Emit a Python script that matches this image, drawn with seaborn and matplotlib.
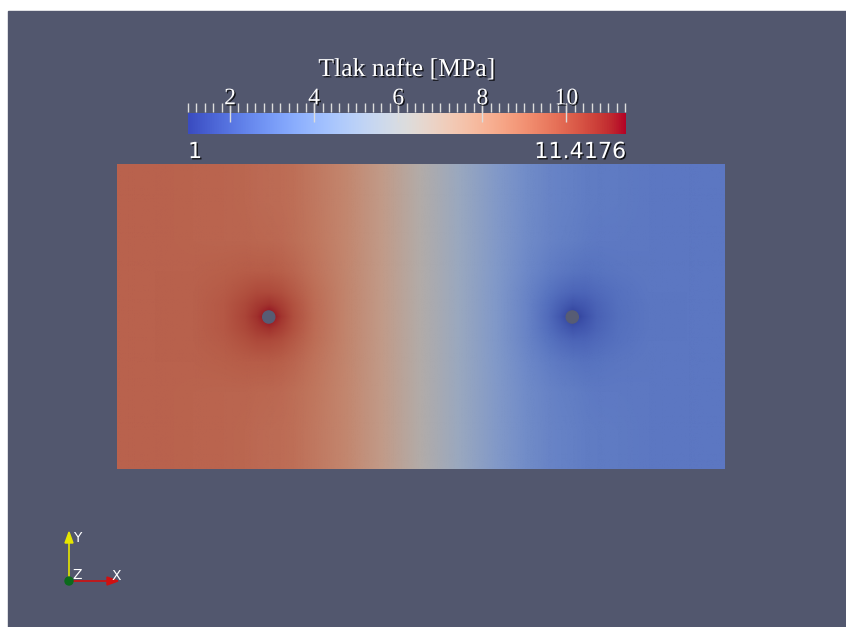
import numpy as np
import matplotlib
matplotlib.use("Agg")
import matplotlib.pyplot as plt
import matplotlib.patheffects as pe
from matplotlib.colors import ListedColormap, Normalize
from matplotlib.image import NonUniformImage
from matplotlib.patches import Circle, Polygon, Rectangle
import seaborn as sns

sns.set_theme(style="white")
plt.rcParams["font.family"] = ["Liberation Serif", "DejaVu Sans"]

x_nodes = [0, 12.5, 25, 35, 42, 46, 50, 54, 58, 65, 75, 87.5, 100,
           112.5, 125, 135, 142, 146, 150, 154, 158, 165, 175, 187.5, 200]
y_nodes = [0, 12.5, 25, 35, 42, 46, 50, 54, 58, 65, 75, 87.5, 100]
# rows by distance from the well line (y = 50 m)
p_far = [9.5, 9.5, 9.45, 9.4, 9.35, 9.3, 9.25, 9.2, 9.1, 8.85, 8.35, 7.5, 6.4,
         5.3, 4.3, 3.7, 3.4, 3.3, 3.2, 3.1, 3.05, 3.0, 2.95, 2.9, 2.9]
p_dy25 = [9.5, 9.5, 9.45, 9.42, 9.41, 9.37, 9.33, 9.27, 9.16, 8.87, 8.35, 7.5, 6.4,
          5.3, 4.3, 3.68, 3.34, 3.23, 3.12, 3.03, 2.99, 2.98, 2.95, 2.9, 2.9]
p_dy15 = [9.5, 9.5, 9.47, 9.56, 9.65, 9.66, 9.63, 9.56, 9.4, 9.01, 8.37, 7.5, 6.4,
          5.3, 4.28, 3.54, 3.1, 2.94, 2.82, 2.74, 2.75, 2.84, 2.93, 2.9, 2.9]
p_dy8 = [9.5, 9.5, 9.51, 9.7, 9.97, 10.12, 10.15, 10.02, 9.72, 9.15, 8.41, 7.5, 6.4,
         5.3, 4.24, 3.4, 2.78, 2.48, 2.3, 2.28, 2.43, 2.7, 2.89, 2.9, 2.9]
p_dy4 = [9.5, 9.5, 9.53, 9.76, 10.17, 10.5, 10.7, 10.4, 9.92, 9.21, 8.43, 7.5, 6.4,
         5.3, 4.22, 3.34, 2.58, 2.1, 1.75, 1.9, 2.23, 2.64, 2.87, 2.9, 2.9]
p_dy0 = [9.5, 9.5, 9.53, 9.78, 10.25, 10.75, 11.42, 10.65, 10.0, 9.23, 8.43, 7.5, 6.4,
         5.3, 4.22, 3.32, 2.5, 1.85, 1.0, 1.65, 2.15, 2.62, 2.87, 2.9, 2.9]

# wells (holes in the mesh)
well_x = [50, 150]
well_y = [50, 50]
well_r = 2.0

p_min, p_max = 1.0, 11.4176
bar_title = "Tlak nafte [MPa]"
bar_ticks = [2, 4, 6, 8, 10]

field = np.array([p_far, p_far, p_dy25, p_dy15, p_dy8, p_dy4, p_dy0,
                  p_dy4, p_dy8, p_dy15, p_dy25, p_far, p_far])

W, H = 846, 627
bg = "#52576e"
cmap = sns.color_palette("coolwarm", as_cmap=True)
# the slab is lit, so it renders darker than the bar
shade = 0.79
lut = cmap(np.linspace(0, 1, 256))
lut[:, :3] *= shade
cmap_lit = ListedColormap(lut)
norm = Normalize(p_min, p_max)


def px(x0, y0, w, h):
    return [x0 / W, 1 - (y0 + h) / H, w / W, h / H]


fig = plt.figure(figsize=(W / 100, H / 100), dpi=100)
fig.patch.set_facecolor("white")
fig.add_artist(Rectangle((8 / W, 0), 1 - 8 / W, 1 - 11 / H,
                         transform=fig.transFigure, color=bg, zorder=0))

# field
ax = fig.add_axes(px(117, 165, 607, 304))
im = NonUniformImage(ax, interpolation="bilinear", cmap=cmap_lit, norm=norm,
                     extent=(x_nodes[0], x_nodes[-1], y_nodes[0], y_nodes[-1]))
im.set_data(x_nodes, y_nodes, field)
ax.add_image(im)
for wx, wy in zip(well_x, well_y):
    ax.add_patch(Circle((wx, wy), well_r, color="#575c74", zorder=3))
ax.set_xlim(x_nodes[0], x_nodes[-1])
ax.set_ylim(y_nodes[0], y_nodes[-1])
ax.set_axis_off()

# scalar bar
shadow = [pe.withSimplePatchShadow(offset=(1, -1), shadow_rgbFace="black", alpha=0.8)]
cax = fig.add_axes(px(188, 113, 438, 21))
cax.imshow(np.linspace(p_min, p_max, 512)[None, :], cmap=cmap, norm=norm,
           aspect="auto", extent=(p_min, p_max, 0, 1))
cax.set_xlim(p_min, p_max)
cax.set_ylim(0, 1)
cax.set_axis_off()
minor = np.arange(p_min, p_max + 1e-9, 0.2)
cax.vlines(minor, 1.05, 1.48, color="#dcdcdc", lw=1, clip_on=False)
cax.vlines(bar_ticks, 0.55, 1.48, color="#dcdcdc", lw=1, clip_on=False)
for t in bar_ticks:
    cax.text(t, 1.68, str(t), ha="center", va="center", fontsize=17,
             color="white", path_effects=shadow)
cax.text((p_min + p_max) / 2, 3.05, bar_title, ha="center", va="center",
         fontsize=18.5, color="white", path_effects=shadow)
cax.text(p_min, -0.86, f"{p_min:g}", ha="left", va="center", fontsize=16,
         color="white", family="DejaVu Sans", path_effects=shadow)
cax.text(p_max, -0.86, f"{p_max:g}", ha="right", va="center", fontsize=16,
         color="white", family="DejaVu Sans", path_effects=shadow)

# orientation triad
tri = fig.add_axes([0, 0, 1, 1], zorder=5)
tri.set_xlim(0, W)
tri.set_ylim(H, 0)
tri.set_axis_off()
tri.patch.set_alpha(0)
ox, oy = 69, 581
tri.plot([ox, ox], [oy, 542], color="#e6e600", lw=1.2)
tri.add_patch(Polygon([[ox - 4, 543], [ox + 4, 543], [ox, 532]], color="#e6e600"))
tri.plot([ox, 108], [oy, oy], color="#d01010", lw=1.2)
tri.add_patch(Polygon([[107, oy - 4], [107, oy + 4], [118, oy]], color="#d01010"))
tri.add_patch(Circle((ox, oy), 4, color="#0b6b1c", zorder=4))
for lab, lx, ly in [("Y", 77, 538), ("Z", 77, 575), ("X", 116, 576)]:
    tri.text(lx, ly, lab, ha="center", va="center", fontsize=10,
             color="white", family="DejaVu Sans")

fig.savefig("out.png", dpi=100, facecolor="white")
